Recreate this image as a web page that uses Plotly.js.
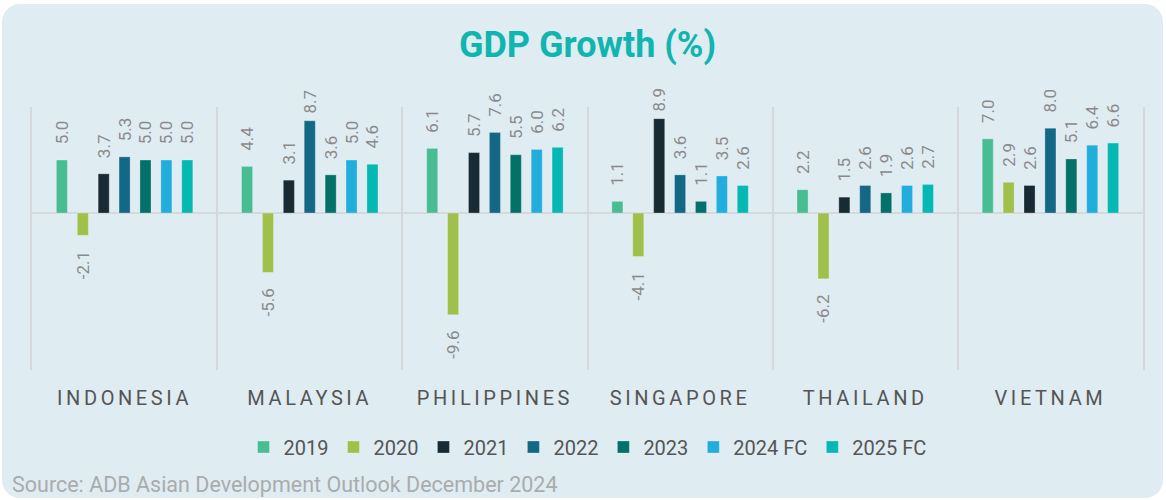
<!DOCTYPE html>
<html><head><meta charset="utf-8">
<script src="https://cdn.plot.ly/plotly-3.0.1.min.js"></script>
<style>
html,body{margin:0;padding:0;background:#ffffff;}
#wrap{position:relative;width:1166px;height:500px;overflow:hidden;}
#panel{position:absolute;left:2px;top:4px;width:1161px;height:494px;border-radius:18px;background:#dfecf2;}
#chart{position:absolute;left:0;top:0;width:1166px;height:500px;}
.xtick text{letter-spacing:3.6px;}
</style></head>
<body><div id="wrap"><div id="panel"></div><div id="chart"></div></div>
<script>
const countries = ['INDONESIA','MALAYSIA','PHILIPPINES','SINGAPORE','THAILAND','VIETNAM'];
const years = ['2019','2020','2021','2022','2023','2024 FC','2025 FC'];
const gdp2019 = [5.0, 4.4, 6.1, 1.1, 2.2, 7.0];
const gdp2020 = [-2.1, -5.6, -9.6, -4.1, -6.2, 2.9];
const gdp2021 = [3.7, 3.1, 5.7, 8.9, 1.5, 2.6];
const gdp2022 = [5.3, 8.7, 7.6, 3.6, 2.6, 8.0];
const gdp2023 = [5.0, 3.6, 5.5, 1.1, 1.9, 5.1];
const gdp2024fc = [5.0, 5.0, 6.0, 3.5, 2.6, 6.4];
const gdp2025fc = [5.0, 4.6, 6.2, 2.6, 2.7, 6.6];
const colors = ['#48bd93','#9fc04b','#182b35','#136885','#03706a','#22aedd','#05b8b3'];

const series = [gdp2019, gdp2020, gdp2021, gdp2022, gdp2023, gdp2024fc, gdp2025fc];
const NB = '\u00a0';
function label(v){
  const s = v.toFixed(1);
  if (v >= 0) return (v > 8.5 ? NB : NB+NB+NB) + s;
  return s + NB+NB+NB;
}
const traces = series.map((vals, i) => ({
  type: 'bar',
  name: years[i],
  x: countries,
  y: vals,
  text: vals.map(label),
  textposition: 'outside',
  textangle: -90,
  constraintext: 'none',
  cliponaxis: false,
  textfont: {family: 'Roboto, sans-serif', size: 17, color: '#8a8a8a'},
  marker: {color: colors[i], line: {color: 'rgba(255,255,255,0.35)', width: 0.8}},
  hoverinfo: 'skip'
}));

const layout = {
  width: 1166, height: 500, autosize: false,
  paper_bgcolor: 'rgba(0,0,0,0)', plot_bgcolor: 'rgba(0,0,0,0)',
  margin: {l: 32, r: 23, t: 107, b: 130},
  barmode: 'group', bargap: 0.21, bargroupgap: 0.47,
  font: {family: 'Roboto, sans-serif', color: '#555555'},
  title: {text: 'GDP Growth (%)', font: {family: 'Roboto, sans-serif', size: 36, color: '#10b5b0', weight: 'bold'},
          x: 0.5, xref: 'paper', xanchor: 'center', y: 0.912, yref: 'container', yanchor: 'middle'},
  xaxis: {type: 'category', tickson: 'boundaries', showgrid: true, gridcolor: '#d6d9db', gridwidth: 2,
          ticks: '', showline: false, zeroline: false, ticklabelstandoff: 14,
          tickfont: {family: 'Roboto, sans-serif', size: 20, color: '#555555'}, fixedrange: true},
  yaxis: {range: [-14.8, 10], showticklabels: false, showgrid: false, zeroline: true,
          zerolinecolor: '#d6d9db', zerolinewidth: 2, showline: true, mirror: true,
          linecolor: '#d6d9db', linewidth: 2, ticks: '', fixedrange: true},
  showlegend: true,
  legend: {orientation: 'h', x: 0.5, xanchor: 'center', xref: 'paper', y: 0.106, yref: 'container', yanchor: 'middle',
           font: {family: 'Roboto, sans-serif', size: 20, color: '#555555'}, bgcolor: 'rgba(0,0,0,0)', traceorder: 'normal'},
  annotations: [{text: 'Source: ADB Asian Development Outlook December 2024', xref: 'paper', yref: 'paper',
                 x: -0.0198, y: -0.437, xanchor: 'left', yanchor: 'middle', showarrow: false,
                 font: {family: 'Roboto, sans-serif', size: 21.5, color: '#a9acad'}}]
};
Plotly.newPlot('chart', traces, layout, {displayModeBar: false, staticPlot: true});
</script>
</body></html>
